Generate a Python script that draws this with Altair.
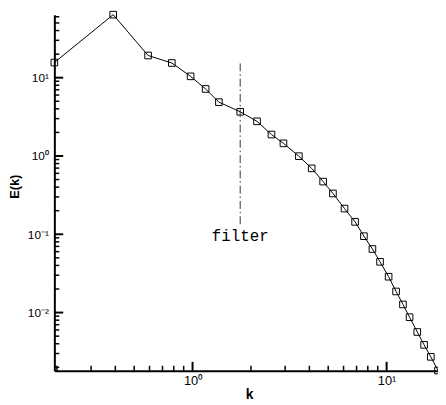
import altair as alt
import numpy as np
import pandas as pd

# Spectrum data
k_vals = [0.194, 0.39, 0.59, 0.782, 0.977, 1.168, 1.367, 1.76, 2.148, 2.55, 2.94,
          3.53, 4.11, 4.71, 5.29, 6.07, 6.88, 7.64, 8.45, 9.25, 10.24, 11.19,
          12.14, 13.13, 14.39, 15.6, 16.9, 18.4]
E_vals = [15.6, 63.8, 19.2, 15.4, 10.4, 7.17, 4.87, 3.67, 2.77, 1.88, 1.45,
          0.994, 0.695, 0.471, 0.332, 0.213, 0.144, 0.0945, 0.0648, 0.0445,
          0.0287, 0.0186, 0.0127, 0.00873, 0.00565, 0.00387, 0.00272, 0.00182]

# filter marker
filter_k = [1.76]
filter_E_top = [15.2]
filter_E_bot = [0.13]
filter_label = ["filter"]
filter_label_E = [0.094]

# axis ticks
x_major = [1, 10]
x_minor = [0.2, 0.3, 0.4, 0.5, 0.6, 0.7, 0.8, 0.9, 2, 3, 4, 5, 6, 7, 8, 9]
y_major = [0.01, 0.1, 1, 10]
y_minor = [0.002, 0.003, 0.004, 0.005, 0.006, 0.007, 0.008, 0.009,
           0.02, 0.03, 0.04, 0.05, 0.06, 0.07, 0.08, 0.09,
           0.2, 0.3, 0.4, 0.5, 0.6, 0.7, 0.8, 0.9,
           2, 3, 4, 5, 6, 7, 8, 9, 20, 30, 40, 50, 60]

x_domain = [0.194, 18.4]
y_domain = [0.00181, 63.8]

W, H = 389, 361
MAJOR_LEN, MINOR_LEN = 9, 5

xs = alt.Scale(type="log", domain=x_domain, nice=False)
ys = alt.Scale(type="log", domain=y_domain, nice=False)

px_dec_x = W / float(np.log10(x_domain[1] / x_domain[0]))
px_dec_y = H / float(np.log10(y_domain[1] / y_domain[0]))

df = pd.DataFrame({"k": k_vals, "E": E_vals})
df_f = pd.DataFrame({"k": filter_k, "E": filter_E_top, "E2": filter_E_bot})
df_t = pd.DataFrame({"k": filter_k, "E": filter_label_E, "t": filter_label})

xt_rows = []
for v in x_major:
    xt_rows.append({"k": v, "E": y_domain[0],
                    "E2": float(y_domain[0] * 10 ** (MAJOR_LEN / px_dec_y)), "w": 2.0})
for v in x_minor:
    xt_rows.append({"k": v, "E": y_domain[0],
                    "E2": float(y_domain[0] * 10 ** (MINOR_LEN / px_dec_y)), "w": 1.5})
df_xt = pd.DataFrame(xt_rows)

yt_rows = []
for v in y_major:
    yt_rows.append({"E": v, "k": x_domain[0],
                    "k2": float(x_domain[0] * 10 ** (MAJOR_LEN / px_dec_x)), "w": 2.0})
for v in y_minor:
    yt_rows.append({"E": v, "k": x_domain[0],
                    "k2": float(x_domain[0] * 10 ** (MINOR_LEN / px_dec_x)), "w": 1.5})
df_yt = pd.DataFrame(yt_rows)

x_axis = alt.Axis(values=x_major, ticks=False, grid=False, domainColor="black",
                  domainWidth=2, labelColor="black", labelFont="Liberation Sans",
                  labelFontSize=13, labelPadding=4,
                  labelExpr="datum.value >= 5 ? '10¹' : '10⁰'",
                  title="k", titleFont="Liberation Sans", titleFontSize=14,
                  titleFontWeight="bold", titleColor="black",
                  titleX=197.5, titleY=24, titleBaseline="middle",
                  titleAlign="center")
y_axis = alt.Axis(values=y_major, ticks=False, grid=False, domainColor="black",
                  domainWidth=2, labelColor="black", labelFont="Liberation Sans",
                  labelFontSize=12, labelPadding=6,
                  labelExpr="datum.value >= 5 ? '10¹' : datum.value >= 0.5 ? '10⁰' : datum.value >= 0.05 ? '10⁻¹' : '10⁻²'",
                  title="E(k)", titleFont="Liberation Sans", titleFontSize=13,
                  titleFontWeight="bold", titleColor="black",
                  titleX=-40, titleY=174, titleAngle=270,
                  titleBaseline="middle", titleAlign="center")

xt = alt.Chart(df_xt).mark_rule(color="black").encode(
    x=alt.X("k:Q", scale=xs, axis=x_axis),
    y=alt.Y("E:Q", scale=ys, axis=y_axis),
    y2=alt.Y2("E2:Q"),
    strokeWidth=alt.StrokeWidth("w:Q", scale=None, legend=None),
)
yt = alt.Chart(df_yt).mark_rule(color="black").encode(
    y=alt.Y("E:Q", scale=ys),
    x=alt.X("k:Q", scale=xs),
    x2=alt.X2("k2:Q"),
    strokeWidth=alt.StrokeWidth("w:Q", scale=None, legend=None),
)

line = alt.Chart(df).mark_line(color="black", strokeWidth=1).encode(
    x=alt.X("k:Q", scale=xs),
    y=alt.Y("E:Q", scale=ys),
)
pts = alt.Chart(df).mark_point(shape="square", filled=False, color="black",
                               size=45, strokeWidth=1, opacity=1).encode(
    x=alt.X("k:Q", scale=xs),
    y=alt.Y("E:Q", scale=ys),
)
frule = alt.Chart(df_f).mark_rule(color="#333333", strokeWidth=1,
                                  strokeDash=[8, 3, 1.5, 3]).encode(
    x=alt.X("k:Q", scale=xs),
    y=alt.Y("E:Q", scale=ys),
    y2="E2:Q",
)
ftext = alt.Chart(df_t).mark_text(font="Liberation Mono", fontSize=16,
                                  color="black", align="center",
                                  baseline="middle").encode(
    x=alt.X("k:Q", scale=xs),
    y=alt.Y("E:Q", scale=ys),
    text="t:N",
)

chart = alt.layer(
    xt, yt, line, pts, frule, ftext,
).properties(
    width=W, height=H,
    background="white",
    autosize=alt.AutoSizeParams(type="none"),
    padding={"left": 47, "top": 4, "right": 0, "bottom": 30},
).configure_view(stroke=None).configure_axis(grid=False)

chart.save("out.html", embed_options={"renderer": "svg", "actions": False})
